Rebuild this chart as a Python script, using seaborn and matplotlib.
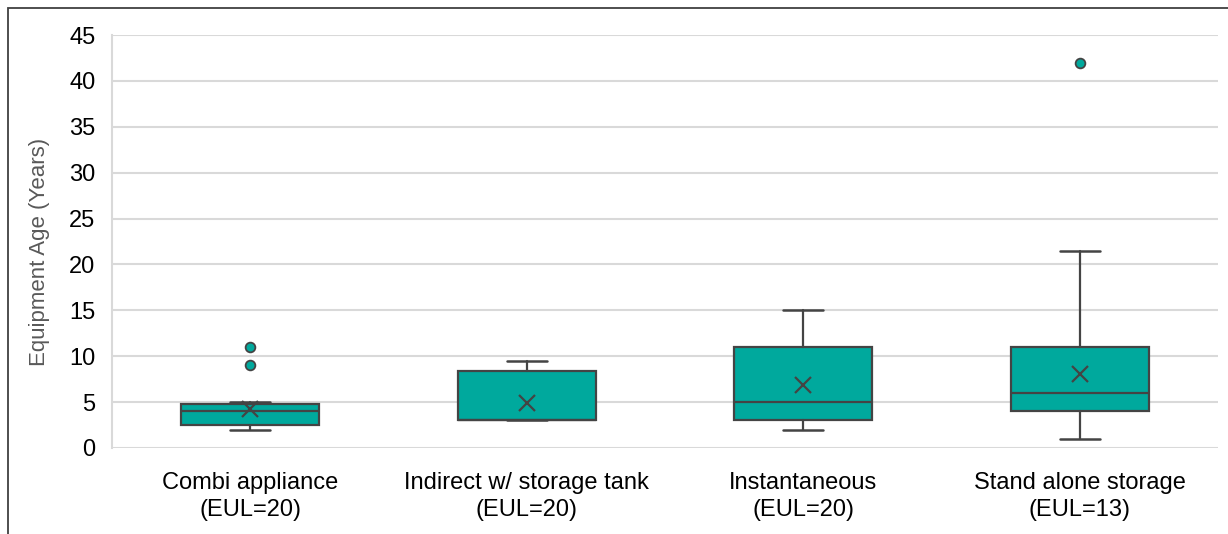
import matplotlib
matplotlib.use("Agg")
import matplotlib.pyplot as plt
import seaborn as sns
from matplotlib.patches import Rectangle

# ---- data ----
categories = ["Combi appliance\n(EUL=20)", "Indirect w/ storage tank\n(EUL=20)",
              "Instantaneous\n(EUL=20)", "Stand alone storage\n(EUL=13)"]
whisker_low = [2.0, 3.0, 2.0, 1.0]
q1 = [2.5, 3.0, 3.0, 4.0]
median = [4.0, 3.0, 5.0, 6.0]
q3 = [4.8, 8.4, 11.0, 11.0]
whisker_high = [5.0, 9.5, 15.0, 21.5]
mean = [4.3, 4.9, 6.9, 8.1]
outliers = [[9.0, 11.0], [], [], [42.0]]
y_ticks = [0, 5, 10, 15, 20, 25, 30, 35, 40, 45]

sns.set_theme(style="whitegrid")
plt.rcParams["font.family"] = ["Liberation Sans", "DejaVu Sans"]

TEAL = "#00A99D"
EDGE = "#444444"
GRID = "#D9D9D9"

fig = plt.figure(figsize=(12.28, 5.34), dpi=100)
ax = fig.add_axes([112 / 1228, 1 - 448 / 534, (1218 - 112) / 1228, (448 - 35) / 534])

stats = []
for i in range(len(categories)):
    stats.append(dict(whislo=whisker_low[i], q1=q1[i], med=median[i], q3=q3[i],
                      whishi=whisker_high[i], mean=mean[i], fliers=outliers[i], label=""))

ax.bxp(stats, positions=list(range(len(categories))), widths=0.5, capwidths=0.145,
       patch_artist=True, showmeans=True, showfliers=True,
       boxprops=dict(facecolor=TEAL, edgecolor=EDGE, linewidth=1.6),
       medianprops=dict(color=EDGE, linewidth=1.6),
       whiskerprops=dict(color=EDGE, linewidth=1.6),
       capprops=dict(color=EDGE, linewidth=1.8),
       meanprops=dict(marker="x", markeredgecolor=EDGE, markersize=12, markeredgewidth=1.6),
       flierprops=dict(marker="o", markerfacecolor=TEAL, markeredgecolor=EDGE,
                       markersize=7, markeredgewidth=1.3))

ax.set_xlim(-0.5, len(categories) - 0.5)
ax.set_ylim(0, 45)
ax.set_yticks(y_ticks)
ax.set_yticklabels([str(t) for t in y_ticks])
ax.set_xticks(range(len(categories)))
ax.set_xticklabels(categories, fontsize=17, color="#000000", linespacing=1.3)
ax.tick_params(axis="y", labelsize=17, labelcolor="#000000", length=0, pad=12)
ax.tick_params(axis="x", length=0, pad=17)
ax.grid(axis="y", color=GRID, linewidth=1.5)
ax.grid(axis="x", visible=False)
ax.set_ylabel("Equipment Age (Years)", fontsize=16, color="#595959")
ax.yaxis.set_label_coords(-0.056, 0.475)

for s in ["top", "right", "bottom"]:
    ax.spines[s].set_visible(False)
ax.spines["left"].set_color(GRID)
ax.spines["left"].set_linewidth(1.5)
ax.set_axisbelow(True)

# outer chart frame (only top and left edges lie inside the image)
frame = Rectangle((8 / 1228, -0.05), 1.2, 1 - 7.5 / 534 + 0.05, transform=fig.transFigure,
                  fill=False, edgecolor="#404040", linewidth=1.3)
fig.add_artist(frame)

fig.savefig("out.png", dpi=100, facecolor="white")
